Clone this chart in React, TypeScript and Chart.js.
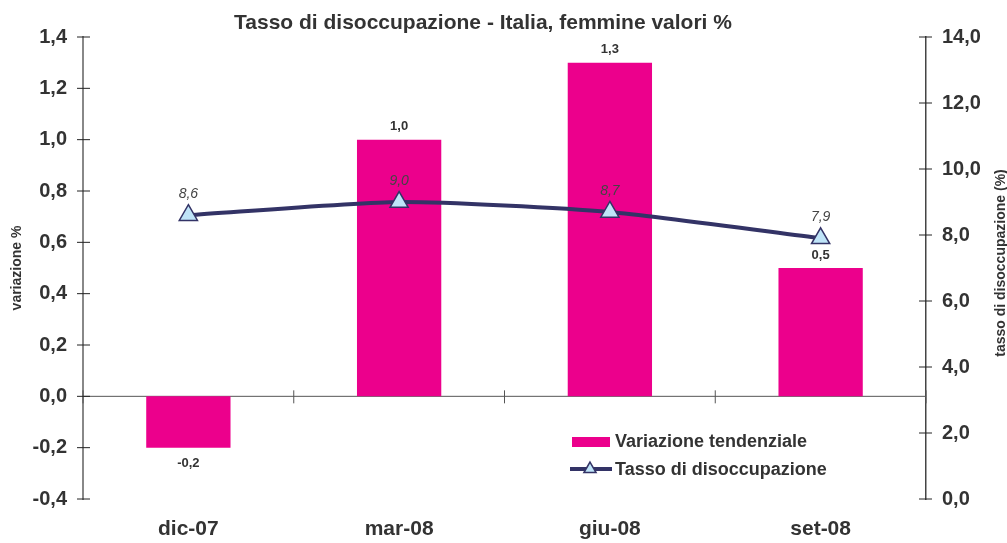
import React, { useEffect, useRef } from "react";
import { Chart, registerables } from "chart.js";

Chart.register(...registerables);

const categories = ["dic-07", "mar-08", "giu-08", "set-08"];
const variazione = [-0.2, 1.0, 1.3, 0.5];
const tasso = [8.6, 9.0, 8.7, 7.9];
const seriesNames = ["Variazione tendenziale", "Tasso di disoccupazione"];
const titleText = "Tasso di disoccupazione - Italia, femmine valori %";
const leftAxisTitle = "variazione %";
const rightAxisTitle = "tasso di disoccupazione (%)";
const leftRange = { min: -0.4, max: 1.4, step: 0.2 };
const rightRange = { min: 0, max: 14, step: 2 };

const FONT = "'Liberation Sans', Arial, Helvetica, sans-serif";
const TEXT = "#333333";
const BAR = "#EC008C";
const LINE = "#333366";
const MARKER = "#BFE4F8";

const fmt = (v: number, d: number) => {
  const x = Math.abs(v) < 1e-9 ? 0 : v;
  return x.toFixed(d).replace(".", ",");
};

const decor = {
  id: "decor",
  beforeDatasetsDraw(chart: any) {
    const { ctx, chartArea, scales } = chart;
    const y0 = scales.y.getPixelForValue(0);
    ctx.save();
    ctx.strokeStyle = "#555555";
    ctx.lineWidth = 1;
    ctx.beginPath();
    ctx.moveTo(chartArea.left, y0);
    ctx.lineTo(chartArea.right, y0);
    const n = categories.length;
    const w = (chartArea.right - chartArea.left) / n;
    for (let i = 0; i <= n; i++) {
      const x = chartArea.left + i * w;
      ctx.moveTo(x, y0 - 6);
      ctx.lineTo(x, y0 + 7);
    }
    ctx.stroke();
    ctx.strokeStyle = "#222222";
    ctx.beginPath();
    scales.y.ticks.forEach((t: any) => {
      const y = scales.y.getPixelForValue(t.value);
      ctx.moveTo(chartArea.left - 6, y);
      ctx.lineTo(chartArea.left + 7, y);
    });
    scales.y1.ticks.forEach((t: any) => {
      const y = scales.y1.getPixelForValue(t.value);
      ctx.moveTo(chartArea.right - 7, y);
      ctx.lineTo(chartArea.right + 6, y);
    });
    ctx.stroke();
    ctx.restore();
  },
  afterDraw(chart: any) {
    const { ctx, chartArea } = chart;
    ctx.save();
    ctx.fillStyle = TEXT;
    ctx.font = `bold 21px ${FONT}`;
    ctx.textAlign = "center";
    ctx.textBaseline = "middle";
    ctx.fillText(titleText, 483, 23);

    const midY = (chartArea.top + chartArea.bottom) / 2;
    ctx.font = `bold 14px ${FONT}`;
    ctx.save();
    ctx.translate(17, midY);
    ctx.rotate(-Math.PI / 2);
    ctx.fillText(leftAxisTitle, 0, 0);
    ctx.restore();
    ctx.save();
    ctx.translate(1001, midY - 5);
    ctx.rotate(-Math.PI / 2);
    ctx.fillText(rightAxisTitle, 0, 0);
    ctx.restore();

    const barMeta = chart.getDatasetMeta(0);
    ctx.font = `bold 13px ${FONT}`;
    barMeta.data.forEach((el: any, i: number) => {
      const v = variazione[i];
      const y = v >= 0 ? el.y - 13 : el.y + 16;
      ctx.fillText(fmt(v, 1), el.x, y);
    });

    const lineMeta = chart.getDatasetMeta(1);
    ctx.font = `italic 14px ${FONT}`;
    ctx.fillStyle = "#444444";
    lineMeta.data.forEach((el: any, i: number) => {
      ctx.fillText(fmt(tasso[i], 1), el.x, el.y - 21);
    });

    const lx = 572;
    const ly1 = 441;
    const ly2 = 469;
    ctx.fillStyle = BAR;
    ctx.fillRect(lx, ly1 - 4, 38, 10);
    ctx.strokeStyle = LINE;
    ctx.lineWidth = 4;
    ctx.beginPath();
    ctx.moveTo(lx - 2, ly2);
    ctx.lineTo(lx + 40, ly2);
    ctx.stroke();
    const r = 7;
    const cx = lx + 18;
    const a = (2 * Math.PI) / 3;
    ctx.beginPath();
    ctx.moveTo(cx, ly2 - r);
    ctx.lineTo(cx + r * Math.sin(a), ly2 - r * Math.cos(a));
    ctx.lineTo(cx - r * Math.sin(a), ly2 - r * Math.cos(a));
    ctx.closePath();
    ctx.fillStyle = MARKER;
    ctx.fill();
    ctx.lineWidth = 1.5;
    ctx.stroke();

    ctx.fillStyle = TEXT;
    ctx.font = `bold 18px ${FONT}`;
    ctx.textAlign = "left";
    ctx.fillText(seriesNames[0], lx + 43, ly1 + 1);
    ctx.fillText(seriesNames[1], lx + 43, ly2 + 1);
    ctx.restore();
  },
};

export default function App() {
  const ref = useRef<HTMLCanvasElement | null>(null);

  useEffect(() => {
    if (!ref.current) return;
    const chart = new Chart(ref.current, {
      type: "bar",
      data: {
        labels: categories,
        datasets: [
          {
            type: "bar",
            label: seriesNames[0],
            data: variazione,
            backgroundColor: BAR,
            borderWidth: 0,
            barPercentage: 0.4,
            categoryPercentage: 1,
            yAxisID: "y",
            order: 1,
          },
          {
            type: "line",
            label: seriesNames[1],
            data: tasso,
            yAxisID: "y1",
            borderColor: LINE,
            borderWidth: 4,
            tension: 0.2,
            pointStyle: "triangle",
            pointRadius: 10.5,
            pointBackgroundColor: MARKER,
            pointBorderColor: LINE,
            pointBorderWidth: 1.5,
            order: 0,
          } as any,
        ],
      },
      options: {
        animation: false,
        responsive: false,
        maintainAspectRatio: false,
        layout: { padding: { top: 37, left: 0, right: 0, bottom: 0 } },
        plugins: {
          legend: { display: false },
          title: { display: false },
          tooltip: { enabled: false },
        },
        scales: {
          x: {
            offset: true,
            grid: { display: false, drawTicks: false },
            border: { display: false },
            ticks: {
              color: TEXT,
              font: { family: FONT, size: 21, weight: "bold" },
              padding: 18,
              maxRotation: 0,
            },
            afterFit: (s: any) => {
              s.height = 44;
            },
          },
          y: {
            position: "left",
            min: leftRange.min,
            max: leftRange.max,
            grid: { display: false, drawTicks: false },
            border: { display: true, color: "#888888", width: 2 },
            ticks: {
              stepSize: leftRange.step,
              color: TEXT,
              font: { family: FONT, size: 20, weight: "bold" },
              padding: 16,
              callback: (v: any) => fmt(Number(v), 1),
            },
            afterFit: (s: any) => {
              s.width = 83;
            },
          },
          y1: {
            position: "right",
            min: rightRange.min,
            max: rightRange.max,
            grid: { display: false, drawTicks: false },
            border: { display: true, color: "#444444", width: 1.5 },
            ticks: {
              stepSize: rightRange.step,
              color: TEXT,
              font: { family: FONT, size: 20, weight: "bold" },
              padding: 16,
              callback: (v: any) => fmt(Number(v), 1),
            },
            afterFit: (s: any) => {
              s.width = 81;
            },
          },
        },
      },
      plugins: [decor],
    });
    return () => chart.destroy();
  }, []);

  return (
    <div style={{ position: "fixed", left: 0, top: 0, width: 1007, height: 543, background: "#fff" }}>
      <canvas ref={ref} width={1007} height={543} style={{ width: 1007, height: 543, display: "block" }} />
    </div>
  );
}
